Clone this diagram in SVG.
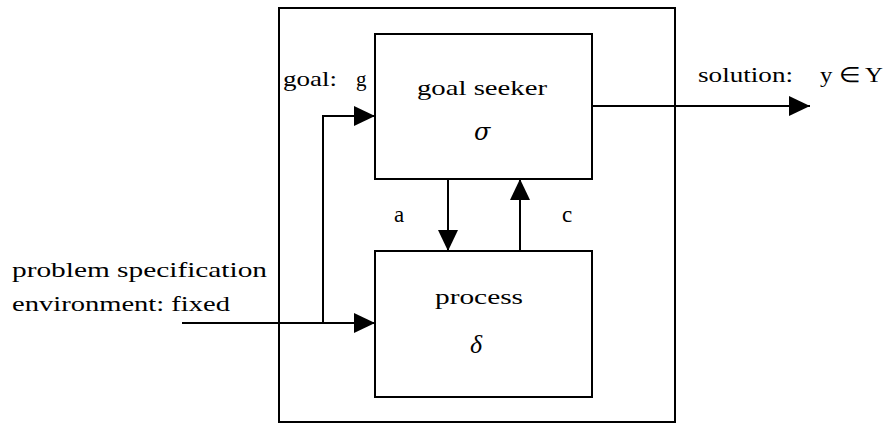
<svg xmlns="http://www.w3.org/2000/svg" width="890" height="423" viewBox="0 0 890 423">
  <style>
    .box { fill: #fff; stroke: #000; stroke-width: 2; }
    .wire { fill: none; stroke: #000; stroke-width: 2; }
    text { font-family: "Liberation Serif", "Times New Roman", serif; font-size: 21px; fill: #000; }
    .greek { font-style: italic; font-size: 26px; }
    .sigma { font-family: "DejaVu Serif", serif; font-style: italic; font-size: 24px; }
    .port { font-size: 23px; }
  </style>
  <defs>
    <marker id="head" markerUnits="userSpaceOnUse" markerWidth="22" markerHeight="20" refX="21" refY="10" orient="auto">
      <path d="M0,0 L21,10 L0,20 z" fill="#000"/>
    </marker>
  </defs>

  <rect width="890" height="423" fill="#fff"/>

  <!-- enclosing system boundary -->
  <g id="system">
    <rect class="box" x="279" y="8" width="396" height="414"/>
  </g>

  <g id="goal-seeker">
    <rect class="box" x="375" y="34" width="217" height="145"/>
    <text x="417" y="95" textLength="130" lengthAdjust="spacingAndGlyphs">goal seeker</text>
    <text class="sigma" x="474" y="140">σ</text>
  </g>

  <g id="process">
    <rect class="box" x="375" y="251" width="217" height="146"/>
    <text x="435" y="304" textLength="88" lengthAdjust="spacingAndGlyphs">process</text>
    <text class="greek" x="470" y="353">δ</text>
  </g>

  <g id="connectors">
    <path class="wire" d="M182,323 H375" marker-end="url(#head)"/>
    <path class="wire" d="M323,323 V116 H375" marker-end="url(#head)"/>
    <path class="wire" d="M448,179 V251" marker-end="url(#head)"/>
    <path class="wire" d="M520,251 V179" marker-end="url(#head)"/>
    <path class="wire" d="M592,106 H810" marker-end="url(#head)"/>
  </g>

  <g id="labels">
    <text x="283" y="86" textLength="54" lengthAdjust="spacingAndGlyphs">goal:</text>
    <text x="356" y="86">g</text>
    <text class="port" x="394" y="222">a</text>
    <text class="port" x="562" y="222">c</text>
    <text x="698" y="82" textLength="95" lengthAdjust="spacingAndGlyphs">solution:</text>
    <text x="820" y="82" textLength="63" lengthAdjust="spacingAndGlyphs">y ∈ Y</text>
    <text x="12" y="277" textLength="255" lengthAdjust="spacingAndGlyphs">problem specification</text>
    <text x="12" y="311" textLength="218" lengthAdjust="spacingAndGlyphs">environment: fixed</text>
  </g>
</svg>
